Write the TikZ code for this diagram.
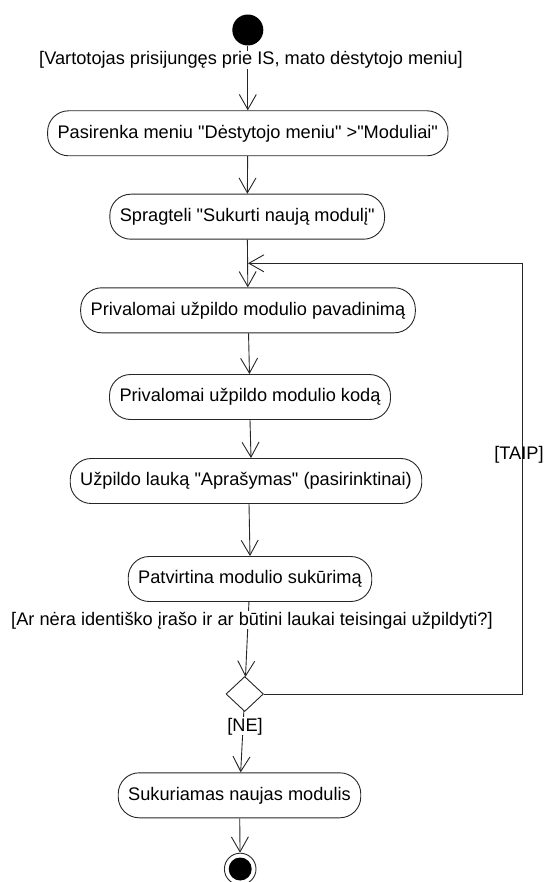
\documentclass[tikz,border=0pt]{standalone}
\usepackage{fontspec}
\setmainfont{Liberation Sans}[Ligatures=TeXOff]
\usetikzlibrary{arrows.meta,shapes.geometric}
\begin{document}
\begin{tikzpicture}[x=1pt,y=-1pt,
  every node/.style={font=\fontsize{18.2}{22}\selectfont},
  action/.style={draw=black!85, line width=0.9pt, rounded corners=21pt,
    minimum height=45pt, inner xsep=10pt, inner ysep=0pt},
  flow/.style={draw=black!85, line width=0.9pt,
    -{Straight Barb[length=15pt,width=17pt]}},
  guard/.style={fill=white, inner sep=0.5pt},
  label/.style={inner sep=0.5pt},
]
\useasboundingbox (0,0) rectangle (545,882);

% initial node
\node[circle, fill=black, minimum size=31pt, inner sep=0pt] (start) at (247.8,30) {};

% actions
\node[action] (a1) at (247.8,133.3) {Pasirenka meniu "Dėstytojo meniu" >"Moduliai"};
\node[action] (a2) at (247.2,216.7) {Spragteli "Sukurti naują modulį"};
\node[action] (a3) at (248,310.3) {Privalomai užpildo modulio pavadinimą};
\node[action] (a4) at (250,397) {Privalomai užpildo modulio kodą};
\node[action] (a5) at (246,481) {Užpildo lauką "Aprašymas" (pasirinktinai)};
\node[action] (a6) at (250,579) {Patvirtina modulio sukūrimą};
\node[action] (a7) at (239.5,795.3) {Sukuriamas naujas modulis};

% decision
\node[diamond, draw=black!85, line width=0.9pt, minimum width=37.4pt,
  minimum height=35pt, inner sep=0pt] (dec) at (244.7,694) {};

% final node
\node[circle, draw=black!85, line width=0.9pt, minimum size=31.6pt, inner sep=0pt] (end) at (240.2,869) {};
\fill[black] (end.center) circle (11.5pt);

% loop back corner and join point
\coordinate (j) at (248,263.3);
\coordinate (r2) at (522.7,263.3);

% flows
\draw[flow] (start) -- (a1);
\draw[flow] (a1) -- (a2);
\draw[flow] (a2) -- (a3);
\draw[flow] (a3) -- (a4);
\draw[flow] (a4.south) -- ([xshift=5pt]a5.north);
\draw[flow] ([xshift=3pt]a5.south) -- (a6.north);
\draw[flow] (a6) -- (dec);
\draw[flow] (dec) -- (a7);
\draw[flow] (a7) -- (end);
\draw[flow] (dec.east) -| (r2) -- (j);

% guards
\node[guard, anchor=base] (g1) at (251,65) {[Vartotojas prisijungęs prie IS, mato dėstytojo meniu]};
\node[guard, anchor=base] (g2) at (252,625) {[Ar nėra identiško įrašo ir ar būtini laukai teisingai užpildyti?]};
\node[guard, anchor=base] (ne) at (245,731) {[NE]};
\node[label, anchor=base] (taip) at (519,459) {[TAIP]};
\end{tikzpicture}
\end{document}
